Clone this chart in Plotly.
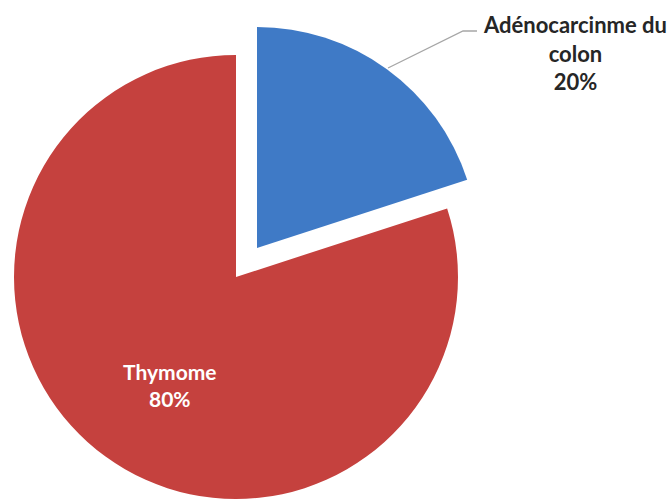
import plotly.graph_objects as go

# Data
categories = ["Adénocarcinme du colon", "Thymome"]
values = [20, 80]
colors = ["#3F7AC6", "#C5413E"]

W, H = 672, 500
total = sum(values)
pcts = [round(100 * v / total) for v in values]

# Pie geometry in pixels: the colon slice is drawn on its own, offset
# outward from the main pie so it appears pulled out.
main_c, main_r = (236, 277), 222
pulled_c, pulled_r = (257, 248), 221


def domain(center, r):
    cx, cy = center
    return dict(x=[(cx - r) / W, (cx + r) / W],
                y=[1 - (cy + r) / H, 1 - (cy - r) / H])


transparent = "rgba(0,0,0,0)"

fig = go.Figure()
# main pie: only the Thymome slice visible
fig.add_trace(go.Pie(
    labels=categories, values=values, sort=False, direction="clockwise",
    rotation=0, domain=domain(main_c, main_r),
    marker=dict(colors=[transparent, colors[1]], line=dict(width=0)),
    textinfo="none", hoverinfo="label+percent", showlegend=False,
))
# pulled-out slice: only the colon slice visible
fig.add_trace(go.Pie(
    labels=categories, values=values, sort=False, direction="clockwise",
    rotation=0, domain=domain(pulled_c, pulled_r),
    marker=dict(colors=[colors[0], transparent], line=dict(width=0)),
    textinfo="none", hoverinfo="label+percent", showlegend=False,
))

font = "Lato, Carlito, Calibri, sans-serif"

# Thymome label inside its slice
fig.add_annotation(
    x=170 / W, y=1 - 385 / H, xref="paper", yref="paper",
    xanchor="center", yanchor="middle",
    text=f"<b>{categories[1]}<br>{pcts[1]}%</b>", showarrow=False,
    font=dict(family=font, size=21, color="white"), align="center",
)
# colon label outside with a leader line
fig.add_annotation(
    x=575 / W, y=1 - 53 / H, xref="paper", yref="paper",
    xanchor="center", yanchor="middle",
    text="<b>Adénocarcinme du<br>colon<br>%d%%</b>" % pcts[0], showarrow=False,
    font=dict(family=font, size=22, color="#262626"), align="center",
)
fig.add_shape(
    type="path", xref="paper", yref="paper",
    path="M {:.4f},{:.4f} L {:.4f},{:.4f} L {:.4f},{:.4f}".format(
        388 / W, 1 - 68 / H, 463 / W, 1 - 31 / H, 477 / W, 1 - 31 / H),
    line=dict(color="#A6A6A6", width=1.3),
)

fig.update_layout(
    width=W, height=H, margin=dict(l=0, r=0, t=0, b=0),
    paper_bgcolor="white", plot_bgcolor="white",
)

fig.write_html("out.html")
